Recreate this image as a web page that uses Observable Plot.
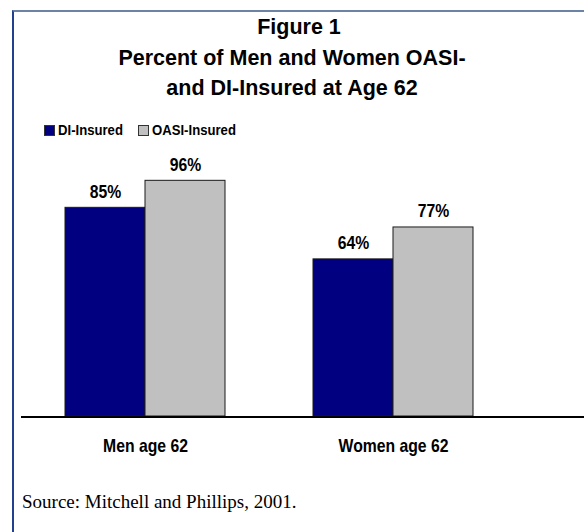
<!DOCTYPE html>
<html>
<head>
<meta charset="utf-8">
<script src="https://cdn.jsdelivr.net/npm/d3@7"></script>
<script src="https://cdn.jsdelivr.net/npm/@observablehq/plot@0.6"></script>
<style>
  html, body { margin: 0; padding: 0; background: #fff; }
  body { width: 584px; height: 532px; overflow: hidden; position: relative; }
  #box { position: absolute; left: 12px; top: 10px; width: 640px; height: 640px;
         border-top: 2px solid #6b84a6; border-left: 2px solid #23408f; box-sizing: border-box; }
  #title { position: absolute; left: 12px; width: 560px; top: 12px; text-align: center;
           font: bold 21.5px "Liberation Sans", Arial, sans-serif; line-height: 30.5px; color: #000; }
  #title .l1 { padding-left: 14px; }
  #legend { position: absolute; left: 44px; top: 122px; font: bold 14.6px "Liberation Sans", Arial, sans-serif;
            color: #000; display: flex; align-items: center; white-space: nowrap; }
  #legend .item { display: flex; align-items: center; margin-right: 8px; }
  #legend .sw { width: 11px; height: 11px; border: 1px solid #333; margin-right: 3px; box-sizing: border-box; }
  #legend .lab { display: inline-block; transform: scaleX(0.9); transform-origin: left center; }
  #chart { position: absolute; left: 0; top: 140px; }
  #source { position: absolute; left: 22px; top: 491px; font: 19px "Liberation Serif", "Times New Roman", serif; color: #000; }
</style>
</head>
<body>
<div id="box"></div>
<div id="title"><span class="l1">Figure 1</span><br>Percent of Men and Women OASI-<br>and DI-Insured at Age 62</div>
<div id="legend"></div>
<div id="chart"></div>
<div id="source">Source: Mitchell and Phillips, 2001.</div>
<script>
const groups = ["Men age 62", "Women age 62"];
const series = ["DI-Insured", "OASI-Insured"];
const diValues = [85, 64];
const oasiValues = [96, 77];
const colors = ["#000080", "#c0c0c0"];

const seriesValues = [diValues, oasiValues];
const rows = [];
groups.forEach((g, gi) => series.forEach((s, si) => rows.push({group: g, series: s, value: seriesValues[si][gi]})));

// legend
const legend = document.getElementById("legend");
series.forEach((s, i) => {
  const item = document.createElement("div");
  item.className = "item";
  const sw = document.createElement("span");
  sw.className = "sw";
  sw.style.background = colors[i];
  const t = document.createElement("span");
  t.className = "lab";
  t.textContent = s;
  item.appendChild(sw);
  item.appendChild(t);
  legend.appendChild(item);
});

const chart = Plot.plot({
  width: 584,
  height: 330,
  marginLeft: 21,
  marginRight: 0,
  marginTop: 30.5,
  marginBottom: 54,
  style: {fontFamily: "'Liberation Sans', Arial, sans-serif", background: "transparent", color: "#000"},
  fx: {domain: groups, paddingInner: 0, paddingOuter: 0.135, align: 0, label: null},
  x: {domain: series, paddingInner: 0, paddingOuter: 0.55, axis: null},
  y: {domain: [0, 100], axis: null},
  color: {domain: series, range: colors},
  marks: [
    Plot.barY(rows, {fx: "group", x: "series", y: "value", fill: "series", stroke: "#1a1a1a", strokeWidth: 1}),
    Plot.text(rows, {fx: "group", x: "series", y: "value", text: d => d.value + "%", dy: -10, lineAnchor: "bottom",
                     fontSize: 17.5, fontWeight: "bold", fill: "#000"}),
    Plot.axisFx({anchor: "bottom", tickSize: 0, tickPadding: 23.5, fontSize: 17.5, fontWeight: "bold", label: null}),
    Plot.ruleY([0], {stroke: "#000", strokeWidth: 2, dy: 0.5, insetRight: -67})
  ]
});
// condense the chart's text horizontally (narrow-font look), keeping each label's anchor
d3.select(chart).selectAll("text").each(function () {
  const tr = this.getAttribute("transform");
  if (tr) this.setAttribute("transform", tr + " scale(0.9,1)");
});
document.getElementById("chart").appendChild(chart);
</script>
</body>
</html>
